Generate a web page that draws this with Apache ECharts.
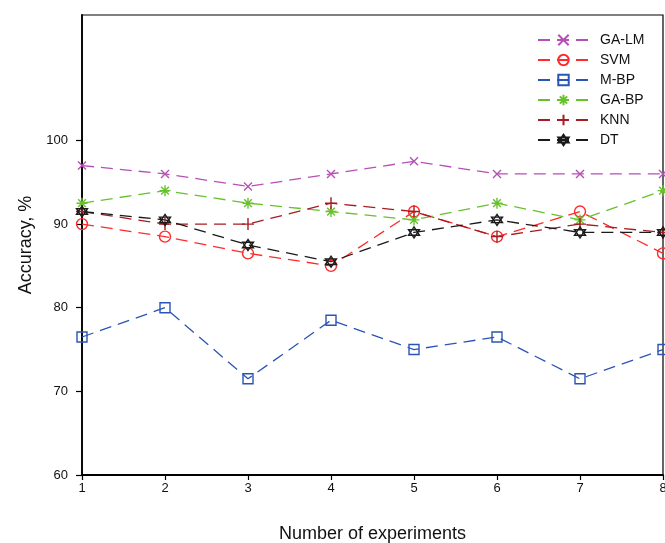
<!DOCTYPE html>
<html><head><meta charset="utf-8">
<script src="https://cdn.jsdelivr.net/npm/echarts@6/dist/echarts.min.js"></script>
<style>html,body{margin:0;padding:0;background:#fff}#c{width:665px;height:543px}</style>
</head><body><div id="c"></div>
<script>
const experiments = [1,2,3,4,5,6,7,8];
const gaLM = [97, 96, 94.5, 96, 97.5, 96, 96, 96];
const svm  = [90, 88.5, 86.5, 85, 91.5, 88.5, 91.5, 86.5];
const mBP  = [76.5, 80, 71.5, 78.5, 75, 76.5, 71.5, 75];
const gaBP = [92.5, 94, 92.5, 91.5, 90.5, 92.5, 90.5, 94];
const knn  = [91.5, 90, 90, 92.5, 91.5, 88.5, 90, 89];
const dt   = [91.5, 90.5, 87.5, 85.5, 89, 90.5, 89, 89];
const yTicks = [60, 70, 80, 90, 100];
const seriesNames = ['GA-LM','SVM','M-BP','GA-BP','KNN','DT'];

const sym = {
  x: 'path://M0,0L10,10M10,0L0,10',
  circ: 'path://M0,5A5,5 0 1,1 10,5A5,5 0 1,1 0,5Z',
  sq: 'path://M0,0L10,0L10,10L0,10Z',
  ast: 'path://M5,0L5,10M0,5L10,5M1.5,1.5L8.5,8.5M8.5,1.5L1.5,8.5',
  plus: 'path://M5,0L5,10M0,5L10,5',
  star: 'path://M5,0L9.33,7.5L0.67,7.5ZM5,10L0.67,2.5L9.33,2.5Z'
};
function pairs(v){ return experiments.map((x,i)=>[x, v[i]]); }
function mk(name, data, color, symbol, size){
  return {
    name, type:'line', data: pairs(data), symbol, symbolSize: size,
    color: color,
    lineStyle:{color, width:1.3, type:[12,7]},
    itemStyle:{color:'rgba(0,0,0,0)', borderColor: color, borderWidth:1.4},
    emphasis:{disabled:true}, animation:false
  };
}
const chart = echarts.init(document.getElementById('c'));
chart.setOption({
  backgroundColor:'#fff',
  animation:false,
  grid:{left:82, right:2, top:15, bottom:68, show:true, borderColor:'#000', borderWidth:1.2, outerBoundsMode:'none', containLabel:false},
  legend:{
    orient:'vertical', left:537, top:33, padding:0, itemWidth:51, itemHeight:13, itemGap:6,
    data: seriesNames,
    textStyle:{fontFamily:'Liberation Sans, Arial', fontSize:14, color:'#111', padding:[0,0,0,6]}
  },
  xAxis:{
    type:'value', min:1, max:8, interval:1,
    name:'Number of experiments', nameLocation:'middle', nameGap:50,
    nameTextStyle:{fontFamily:'Liberation Sans, Arial', fontSize:18, color:'#111'},
    axisLine:{lineStyle:{color:'#000', width:1.8}},
    axisTick:{length:5, lineStyle:{color:'#000', width:1.2}},
    axisLabel:{margin:7, fontFamily:'Liberation Sans, Arial', fontSize:13, color:'#111'},
    splitLine:{show:false}
  },
  yAxis:{
    type:'value', min:60, max:115, interval:10,
    name:'Accuracy, %', nameLocation:'middle', nameGap:43,
    nameTextStyle:{fontFamily:'Liberation Sans, Arial', fontSize:18, color:'#111'},
    axisLine:{show:true, lineStyle:{color:'#000', width:1.8}},
    axisTick:{show:true, length:6, customValues: yTicks, lineStyle:{color:'#000', width:1.2}},
    axisLabel:{margin:14, customValues: yTicks, fontFamily:'Liberation Sans, Arial', fontSize:13, color:'#111'},
    splitLine:{show:false}
  },
  series:[
    mk('GA-LM', gaLM, '#b550b5', sym.x, 8),
    mk('SVM', svm, '#ff2a2a', sym.circ, 11),
    mk('M-BP', mBP, '#2b55b5', sym.sq, 10),
    mk('GA-BP', gaBP, '#66c22a', sym.ast, 11),
    mk('KNN', knn, '#a51c22', sym.plus, 12),
    mk('DT', dt, '#1a1a1a', sym.star, 11)
  ]
});
</script></body></html>
